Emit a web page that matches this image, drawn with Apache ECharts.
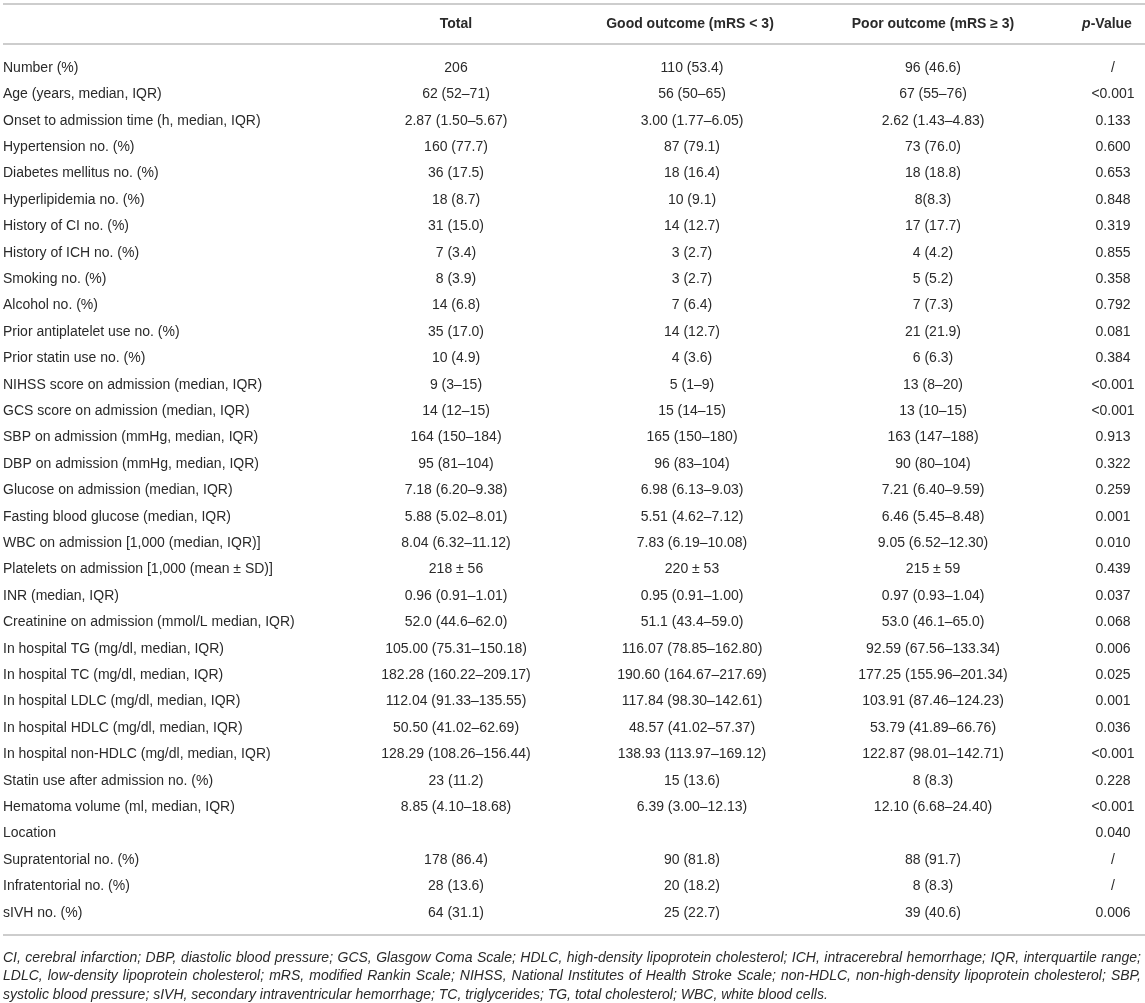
<!DOCTYPE html>
<html>
<head>
<meta charset="utf-8">
<script src="https://cdn.jsdelivr.net/npm/echarts@6/dist/echarts.min.js"></script>
<style>
html,body{margin:0;padding:0;background:#fff;}
#c{width:1145px;height:1003px;}
</style>
</head>
<body>
<div id="c"></div>
<script>
// ---------- data ----------
const rowLabels = [
  'Number (%)',
  'Age (years, median, IQR)',
  'Onset to admission time (h, median, IQR)',
  'Hypertension no. (%)',
  'Diabetes mellitus no. (%)',
  'Hyperlipidemia no. (%)',
  'History of CI no. (%)',
  'History of ICH no. (%)',
  'Smoking no. (%)',
  'Alcohol no. (%)',
  'Prior antiplatelet use no. (%)',
  'Prior statin use no. (%)',
  'NIHSS score on admission (median, IQR)',
  'GCS score on admission (median, IQR)',
  'SBP on admission (mmHg, median, IQR)',
  'DBP on admission (mmHg, median, IQR)',
  'Glucose on admission (median, IQR)',
  'Fasting blood glucose (median, IQR)',
  'WBC on admission [1,000 (median, IQR)]',
  'Platelets on admission [1,000 (mean \u00b1 SD)]',
  'INR (median, IQR)',
  'Creatinine on admission (mmol/L median, IQR)',
  'In hospital TG (mg/dl, median, IQR)',
  'In hospital TC (mg/dl, median, IQR)',
  'In hospital LDLC (mg/dl, median, IQR)',
  'In hospital HDLC (mg/dl, median, IQR)',
  'In hospital non-HDLC (mg/dl, median, IQR)',
  'Statin use after admission no. (%)',
  'Hematoma volume (ml, median, IQR)',
  'Location',
  'Supratentorial no. (%)',
  'Infratentorial no. (%)',
  'sIVH no. (%)'
];
const totalCol = [
  '206','62 (52\u201371)','2.87 (1.50\u20135.67)','160 (77.7)','36 (17.5)','18 (8.7)','31 (15.0)','7 (3.4)','8 (3.9)','14 (6.8)',
  '35 (17.0)','10 (4.9)','9 (3\u201315)','14 (12\u201315)','164 (150\u2013184)','95 (81\u2013104)','7.18 (6.20\u20139.38)','5.88 (5.02\u20138.01)',
  '8.04 (6.32\u201311.12)','218 \u00b1 56','0.96 (0.91\u20131.01)','52.0 (44.6\u201362.0)','105.00 (75.31\u2013150.18)','182.28 (160.22\u2013209.17)',
  '112.04 (91.33\u2013135.55)','50.50 (41.02\u201362.69)','128.29 (108.26\u2013156.44)','23 (11.2)','8.85 (4.10\u201318.68)','',
  '178 (86.4)','28 (13.6)','64 (31.1)'
];
const goodCol = [
  '110 (53.4)','56 (50\u201365)','3.00 (1.77\u20136.05)','87 (79.1)','18 (16.4)','10 (9.1)','14 (12.7)','3 (2.7)','3 (2.7)','7 (6.4)',
  '14 (12.7)','4 (3.6)','5 (1\u20139)','15 (14\u201315)','165 (150\u2013180)','96 (83\u2013104)','6.98 (6.13\u20139.03)','5.51 (4.62\u20137.12)',
  '7.83 (6.19\u201310.08)','220 \u00b1 53','0.95 (0.91\u20131.00)','51.1 (43.4\u201359.0)','116.07 (78.85\u2013162.80)','190.60 (164.67\u2013217.69)',
  '117.84 (98.30\u2013142.61)','48.57 (41.02\u201357.37)','138.93 (113.97\u2013169.12)','15 (13.6)','6.39 (3.00\u201312.13)','',
  '90 (81.8)','20 (18.2)','25 (22.7)'
];
const poorCol = [
  '96 (46.6)','67 (55\u201376)','2.62 (1.43\u20134.83)','73 (76.0)','18 (18.8)','8(8.3)','17 (17.7)','4 (4.2)','5 (5.2)','7 (7.3)',
  '21 (21.9)','6 (6.3)','13 (8\u201320)','13 (10\u201315)','163 (147\u2013188)','90 (80\u2013104)','7.21 (6.40\u20139.59)','6.46 (5.45\u20138.48)',
  '9.05 (6.52\u201312.30)','215 \u00b1 59','0.97 (0.93\u20131.04)','53.0 (46.1\u201365.0)','92.59 (67.56\u2013133.34)','177.25 (155.96\u2013201.34)',
  '103.91 (87.46\u2013124.23)','53.79 (41.89\u201366.76)','122.87 (98.01\u2013142.71)','8 (8.3)','12.10 (6.68\u201324.40)','',
  '88 (91.7)','8 (8.3)','39 (40.6)'
];
const pCol = [
  '/','<0.001','0.133','0.600','0.653','0.848','0.319','0.855','0.358','0.792',
  '0.081','0.384','<0.001','<0.001','0.913','0.322','0.259','0.001',
  '0.010','0.439','0.037','0.068','0.006','0.025',
  '0.001','0.036','<0.001','0.228','<0.001','0.040',
  '/','/','0.006'
];
const headers = ['Total', 'Good outcome (mRS < 3)', 'Poor outcome (mRS \u2265 3)'];
const footnotes = [
  'CI, cerebral infarction; DBP, diastolic blood pressure; GCS, Glasgow Coma Scale; HDLC, high-density lipoprotein cholesterol; ICH, intracerebral hemorrhage; IQR, interquartile range;',
  'LDLC, low-density lipoprotein cholesterol; mRS, modified Rankin Scale; NIHSS, National Institutes of Health Stroke Scale; non-HDLC, non-high-density lipoprotein cholesterol; SBP,',
  'systolic blood pressure; sIVH, secondary intraventricular hemorrhage; TC, triglycerides; TG, total cholesterol; WBC, white blood cells.'
];

// ---------- layout / style ----------
const W = 1145;
const FONT = '"Liberation Sans", Arial, Helvetica, sans-serif';
const TXT = '#2a2a2a';
const RULE = '#bdbdbd';
const colX = [456, 692, 933, 1113];     // column centres (axis units = px)
const headerX = [456, 690, 933, 1107];
const rowH = 26.4;
const firstRowY = 68;
const gridTop = firstRowY - rowH / 2;
const cols = [totalCol, goodCol, poorCol, pCol];
const FOOT_FONT = 'italic 14px ' + FONT;
const FOOT_LEFT = 3, FOOT_RIGHT = 1141;

const chart = echarts.init(document.getElementById('c'), null, {renderer: 'canvas'});

const hLine = (y) => ({
  type: 'line', silent: true,
  shape: {x1: 3, y1: y, x2: W, y2: y},
  style: {stroke: RULE, lineWidth: 1.6}
});
const headerText = (x, text) => ({
  type: 'text', x: x, y: 24,
  style: {text: text, fill: TXT, font: 'bold 14px ' + FONT, align: 'center', verticalAlign: 'middle'}
});

// justified footnote lines (last line left-aligned)
const measureCtx = document.createElement('canvas').getContext('2d');
measureCtx.font = FOOT_FONT;
function footLine(t, i, last) {
  const y = 958 + i * 18.5;
  if (last) {
    return [{type: 'text', x: FOOT_LEFT, y: y,
      style: {text: t, fill: TXT, font: FOOT_FONT, align: 'left', verticalAlign: 'middle'}}];
  }
  const words = t.split(' ');
  const ws = words.map(w => measureCtx.measureText(w).width);
  const total = ws.reduce((a, b) => a + b, 0);
  const gap = (FOOT_RIGHT - FOOT_LEFT - total) / (words.length - 1);
  let x = FOOT_LEFT;
  return words.map((w, k) => {
    const el = {type: 'text', x: x, y: y,
      style: {text: w, fill: TXT, font: FOOT_FONT, align: 'left', verticalAlign: 'middle'}};
    x += ws[k] + gap;
    return el;
  });
}
const footEls = [];
footnotes.forEach((t, i) => footEls.push(...footLine(t, i, i === footnotes.length - 1)));

const option = {
  backgroundColor: '#ffffff',
  animation: false,
  grid: {left: 0, right: 0, top: gridTop, height: rowH * rowLabels.length, containLabel: false},
  xAxis: {type: 'value', min: 0, max: W, show: false},
  yAxis: {
    type: 'category', data: rowLabels, inverse: true,
    axisLine: {show: false}, axisTick: {show: false}, splitLine: {show: false},
    axisLabel: {
      inside: true, interval: 0, margin: 3, align: 'left',
      color: TXT, fontSize: 14, fontFamily: FONT
    }
  },
  series: [{
    type: 'custom',
    coordinateSystem: 'cartesian2d',
    silent: true,
    clip: false,
    encode: {x: 0, y: 1},
    data: rowLabels.map((_, i) => [0, i]),
    renderItem: function (params, api) {
      const r = api.value(1);
      const children = cols.map((col, c) => {
        const p = api.coord([colX[c], r]);
        return {
          type: 'text', x: p[0], y: p[1],
          style: {text: col[r], fill: TXT, font: '14px ' + FONT, align: 'center', verticalAlign: 'middle'}
        };
      });
      return {type: 'group', children: children};
    }
  }],
  graphic: [
    hLine(4), hLine(44), hLine(935),
    headerText(headerX[0], headers[0]),
    headerText(headerX[1], headers[1]),
    headerText(headerX[2], headers[2]),
    {
      type: 'text', x: headerX[3], y: 24,
      style: {
        text: '{i|p}{b|-Value}', align: 'center', verticalAlign: 'middle',
        rich: {
          i: {fontStyle: 'italic', fontWeight: 'bold', fontSize: 14, fontFamily: FONT, fill: TXT, color: TXT},
          b: {fontWeight: 'bold', fontSize: 14, fontFamily: FONT, fill: TXT, color: TXT}
        }
      }
    },
    ...footEls
  ]
};
chart.setOption(option);
</script>
</body>
</html>
